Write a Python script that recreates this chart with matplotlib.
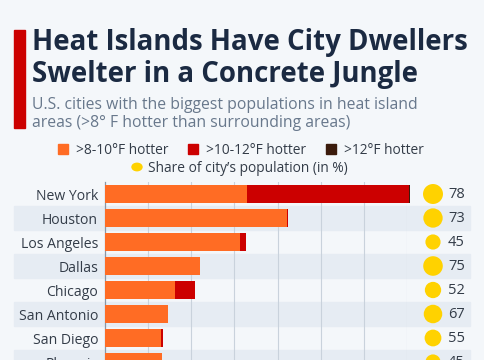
import matplotlib.pyplot as plt
import matplotlib.transforms as mtransforms
from matplotlib.patches import Rectangle
import numpy as np

# DATA #
cities = ["New York", "Houston", "Los Angeles", "Dallas", "Chicago",
          "San Antonio", "San Diego", "Phoenix"]
hot_8_10 = [3.29, 4.23, 3.13, 2.20, 1.63, 1.47, 1.30, 1.32]
hot_10_12 = [3.76, 0.02, 0.14, 0.00, 0.46, 0.00, 0.05, 0.00]
hot_12 = [0.03, 0.00, 0.00, 0.00, 0.00, 0.00, 0.00, 0.00]
share = [78, 73, 45, 75, 52, 67, 55, 45]

# COLORS #
bg = "#f4f7fa"
band = "#e6ecf3"
c_orange = "#ff6c24"
c_red = "#cc0000"
c_dark = "#3b1b0c"
c_yellow = "#ffd200"
navy = "#1b2a42"
grey = "#68788c"
txt = "#333c48"

plt.rcParams['font.family'] = ['Open Sans', 'DejaVu Sans']

W, H = 485, 360
fig = plt.figure(figsize=(W / 100, H / 100), dpi=100, facecolor=bg)


def fx(px):
    return px / W


def fy(py):
    return 1 - py / H


# header
fig.patches.append(Rectangle((fx(14), fy(128)), fx(11), 98 / H,
                             transform=fig.transFigure, color=c_red))
fig.text(fx(32), fy(50), "Heat Islands Have City Dwellers", fontsize=19.9,
         fontweight='bold', color=navy, va='baseline')
fig.text(fx(32), fy(82), "Swelter in a Concrete Jungle", fontsize=19.9,
         fontweight='bold', color=navy, va='baseline')
fig.text(fx(32), fy(109), "U.S. cities with the biggest populations in heat island",
         fontsize=11.3, color=grey, va='baseline')
fig.text(fx(32), fy(127), "areas (>8° F hotter than surrounding areas)",
         fontsize=11.3, color=grey, va='baseline')

# legend
leg = [(63, c_orange, ">8-10°F hotter"), (193, c_red, ">10-12°F hotter"),
       (331, c_dark, ">12°F hotter")]
for x0, col, lab in leg:
    fig.patches.append(Rectangle((fx(x0 - 5), fy(154)), fx(10), 10 / H,
                                 transform=fig.transFigure, color=col))
    fig.text(fx(x0 + 13), fy(154), lab, fontsize=9.9, color=txt, va='baseline')
fig.patches.append(plt.Circle((fx(137), fy(167)), fx(5),
                              transform=fig.transFigure, color=c_yellow))
fig.text(fx(148), fy(172), "Share of city\u2019s population (in %)", fontsize=9.9,
         color=txt, va='baseline')

# chart
ax = fig.add_axes([fx(105), fy(374), fx(407 - 105), (374 - 182) / H])
ax.set_facecolor('none')
n = len(cities)
y = np.arange(n)
left2 = np.array(hot_8_10)
left3 = left2 + np.array(hot_10_12)

trans = mtransforms.blended_transform_factory(fig.transFigure, ax.transData)
for i in range(n):
    if i % 2 == 1:
        ax.add_patch(Rectangle((fx(14), i - 0.5), fx(470 - 14), 1.0,
                               transform=trans, color=band, zorder=0,
                               clip_on=False))

ax.barh(y, hot_8_10, height=0.72, color=c_orange, zorder=3, clip_on=False)
ax.barh(y, hot_10_12, left=left2, height=0.72, color=c_red, zorder=3, clip_on=False)
ax.barh(y, hot_12, left=left3, height=0.72, color=c_dark, zorder=3, clip_on=False)

ax.set_xlim(0, 7)
ax.set_ylim(n - 0.5, -0.5)
ax.set_xticks(np.arange(1, 8))
ax.xaxis.grid(True, color="#c9d2dc", linewidth=0.8, zorder=1)
ax.set_axisbelow(True)
ax.tick_params(axis='x', length=0, labelbottom=False)
ax.tick_params(axis='y', length=0, pad=5)
ax.set_yticks(y)
ax.set_yticklabels(cities, fontsize=10.1, color=txt)
for s in ['top', 'right', 'bottom']:
    ax.spines[s].set_visible(False)
ax.spines['left'].set_color("#8a96a4")
ax.spines['left'].set_linewidth(0.9)

# population share circles
ax.scatter([fx(433)] * n, y, s=np.array(share) * 2.65, color=c_yellow,
           transform=trans, clip_on=False, zorder=4, linewidths=0)
for i, v in enumerate(share):
    ax.text(fx(448), i, str(v), transform=trans, fontsize=10.5, color=txt,
            va='center', ha='left')

fig.savefig("out.png", dpi=100, facecolor=bg)
